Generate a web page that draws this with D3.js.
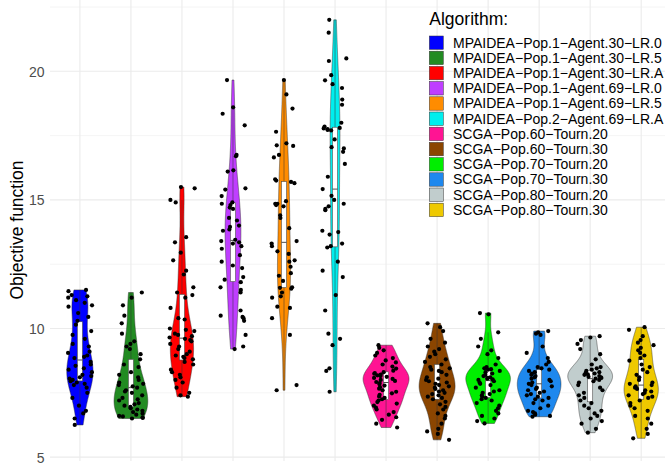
<!DOCTYPE html>
<html><head><meta charset="utf-8">
<script src="https://cdn.jsdelivr.net/npm/d3@7"></script>
<style>body{margin:0;background:#fff}svg{display:block;font-family:"Liberation Sans",Arial,sans-serif}</style>
</head><body><svg id="c" width="665" height="465"></svg>
<script>
const categories = [
  "MPAIDEA−Pop.1−Agent.30−LR.0","MPAIDEA−Pop.1−Agent.30−LR.5","MPAIDEA−Pop.1−Agent.30−LR.A",
  "MPAIDEA−Pop.1−Agent.69−LR.0","MPAIDEA−Pop.1−Agent.69−LR.5","MPAIDEA−Pop.2−Agent.69−LR.A",
  "SCGA−Pop.60−Tourn.20","SCGA−Pop.60−Tourn.30","SCGA−Pop.70−Tourn.20",
  "SCGA−Pop.70−Tourn.30","SCGA−Pop.80−Tourn.20","SCGA−Pop.80−Tourn.30"];
const colors = ["#0000FF","#228B22","#FF0000","#BF3EFF","#FF8C00","#00EEEE",
  "#FF1493","#8B4500","#00EE00","#1E88EE","#C1CDCD","#EEC900"];
const yTicks = [5,10,15,20];
const yMinor = [7.5,12.5,17.5,22.5];

const mp30_lr0 = [11.5,11.45,11.3,11.25,11.2,11.1,11.0,10.9,10.85,10.6,10.45,10.3,10.15,9.9,9.75,9.6,9.4,9.3,9.1,9.05,
  8.95,8.9,8.85,8.7,8.6,8.55,8.45,8.4,8.3,8.2,8.15,8.1,8.05,8.0,7.95,7.9,7.85,7.8,7.7,7.5,7.3,7.0,6.8,6.7,6.5,6.25];
const mp30_lr5 = [11.4,11.2,10.9,10.5,10.2,9.8,9.5,9.4,9.3,9.2,9.0,8.8,8.6,8.5,8.3,8.2,8.1,8.0,7.9,7.85,7.8,7.75,7.7,7.6,7.55,7.5,
  7.4,7.3,7.25,7.2,7.1,7.05,7.0,6.95,6.9,6.85,6.8,6.75,6.7,6.65,6.6,6.58,6.55,6.52,6.5];
const mp30_lrA = [15.5,15.45,15.0,14.9,13.55,13.35,12.95,12.65,12.25,12.1,11.6,11.4,11.3,11.2,10.8,10.4,10.35,
  10.0,9.95,9.9,9.8,9.75,9.7,9.65,9.6,9.55,9.5,9.4,9.3,9.2,9.1,9.0,8.95,8.9,8.85,8.8,8.7,8.6,
  8.4,8.3,8.2,8.1,8.0,7.9,7.7,7.5,7.4,7.35];
const mp69_lr0 = [19.66,18.6,18.35,17.9,16.75,16.7,16.15,16.1,15.45,15.4,15.15,14.9,14.85,14.8,14.7,14.65,14.3,14.2,14.0,13.95,
  13.85,13.8,13.45,13.35,13.4,13.3,13.2,13.1,12.85,12.6,12.45,12.35,12.0,11.9,11.8,11.6,11.5,11.4,
  10.7,10.5,10.45,10.4,10.3,9.75,9.3,9.2];
const mp69_lr5 = [19.66,19.1,18.55,17.65,17.2,17.12,17.1,16.75,16.65,15.8,15.75,15.7,15.65,14.95,14.85,14.85,14.8,14.75,14.4,14.3,
  13.9,13.4,13.3,13.2,13.0,12.9,12.65,12.6,12.4,12.15,12.05,11.85,11.6,11.58,11.55,11.4,11.25,11.2,10.85,10.8,10.4,9.75,7.8,7.6];
const mp2_69_lrA = [22.0,21.5,20.5,20.4,19.85,19.65,19.5,19.35,18.9,18.7,18.0,17.85,17.8,17.78,17.75,17.72,17.7,17.35,17.05,17.0,16.87,16.4,
  15.9,15.42,15.16,15.0,14.85,14.75,14.65,14.6,13.8,13.75,13.65,13.3,13.2,13.15,12.6,12.25,12.0,
  11.3,10.7,9.8,9.6,9.35,8.45,8.35,7.54];
const sc60_20 = [6.15,6.3,6.45,6.55,6.65,6.75,6.85,6.92,7.0,7.08,7.14,7.2,
  7.25,7.3,7.36,7.42,7.48,7.54,7.6,7.66,7.72,7.78,7.84,7.88,
  7.92,7.96,8.0,8.04,8.08,8.12,8.15,8.18,8.21,8.24,8.27,8.3,
  8.36,8.44,8.52,8.6,8.68,8.76,8.85,8.95,9.05,9.15,9.25,9.35];
const sc60_30 = [10.2,10.05,9.9,9.6,9.45,9.3,9.2,9.1,9.0,8.9,8.8,8.7,8.6,8.5,8.45,8.4,8.35,8.3,8.2,8.1,8.05,8.0,7.95,7.9,7.85,7.8,
  7.75,7.7,7.65,7.6,7.55,7.5,7.45,7.4,7.35,7.3,7.25,7.15,7.05,6.95,6.85,6.7,6.6,6.5,6.3,6.1,6.0,5.9,5.67];
const sc70_20 = [10.6,10.55,9.85,9.6,9.3,9.15,9.0,8.85,8.6,8.5,8.45,8.42,8.4,8.35,8.3,8.25,8.2,8.15,8.1,8.08,8.05,8.02,8.0,7.95,7.9,
  7.85,7.8,7.7,7.6,7.55,7.5,7.45,7.4,7.35,7.3,7.25,7.2,7.1,7.0,6.9,6.8,6.7,6.6,6.5,6.4,6.31];
const sc70_30 = [9.9,9.85,9.8,9.75,9.3,9.05,8.85,8.7,8.6,8.5,8.45,8.4,8.35,8.3,8.25,8.2,8.15,8.1,8.05,8.0,7.95,7.9,
  7.85,7.8,7.75,7.7,7.65,7.6,7.55,7.5,7.45,7.4,7.35,7.3,7.25,7.2,7.1,7.0,6.9,6.8,6.75,6.7,6.65,6.6,6.57];
const sc80_20 = [9.7,9.65,9.55,9.4,9.2,9.0,8.8,8.6,8.5,8.45,8.4,8.35,8.3,8.28,8.25,8.22,8.2,8.15,8.12,8.1,8.08,8.05,8.0,7.95,
  7.9,7.8,7.7,7.6,7.5,7.4,7.3,7.2,7.1,7.0,6.9,6.8,6.7,6.6,6.5,6.4,6.3,6.1,5.95];
const sc80_30 = [10.05,9.95,9.7,9.55,9.45,9.35,9.25,9.15,9.05,8.95,8.85,8.75,8.6,8.5,8.4,8.3,8.2,8.1,8.0,7.9,7.85,
  7.8,7.75,7.7,7.65,7.6,7.55,7.5,7.45,7.4,7.35,7.3,7.2,7.1,7.0,6.9,6.8,6.6,6.5,6.3,6.1,5.9,5.73];

const seriesValues = [mp30_lr0,mp30_lr5,mp30_lrA,mp69_lr0,mp69_lr5,mp2_69_lrA,sc60_20,sc60_30,sc70_20,sc70_30,sc80_20,sc80_30];

const panel = {left:50, right:665, top:0, bottom:461};
const svg = d3.select("#c");

const x = d3.scalePoint().domain(categories).range([79.9, 641.2]);
const step = x.step();
const y = d3.scaleLinear().domain([5,20]).range([457.1, 71.3]);

// grid
const grid = svg.append("g");
grid.selectAll(".mi").data(yMinor).join("line")
  .attr("x1",panel.left).attr("x2",panel.right).attr("y1",d=>y(d)).attr("y2",d=>y(d))
  .attr("stroke","#ebebeb").attr("stroke-width",0.55);
grid.selectAll(".ma").data(yTicks).join("line")
  .attr("x1",panel.left).attr("x2",panel.right).attr("y1",d=>y(d)).attr("y2",d=>y(d))
  .attr("stroke","#ebebeb").attr("stroke-width",1.1);
grid.selectAll(".vx").data(categories).join("line")
  .attr("x1",d=>x(d)).attr("x2",d=>x(d)).attr("y1",panel.top).attr("y2",panel.bottom)
  .attr("stroke","#ebebeb").attr("stroke-width",1.1);

// y axis labels
const yAxis = d3.axisLeft(y).tickValues(yTicks).tickSize(0).tickPadding(0).tickFormat(d3.format("d"));
const ga = svg.append("g").attr("transform","translate(44.5,0)").call(yAxis);
ga.select(".domain").remove();
ga.selectAll("text").attr("fill","#4d4d4d").attr("font-size",14).attr("font-family","Liberation Sans, Arial, sans-serif").attr("dy","0.35em");

svg.append("text").attr("transform","translate(23,230) rotate(-90)").attr("text-anchor","middle")
  .attr("font-size",17.5).attr("fill","#000").text("Objective function");

// stats
function bwNrd0(s){
  const sd = d3.deviation(s);
  const iqr = d3.quantileSorted(s,0.75)-d3.quantileSorted(s,0.25);
  let lo = Math.min(sd, iqr/1.34);
  if(!lo) lo = sd || Math.abs(s[0]) || 1;
  return 0.9*lo*Math.pow(s.length,-0.2);
}
const groups = seriesValues.map((vals,i)=>{
  const s = vals.slice().sort(d3.ascending);
  const bw = bwNrd0(s);
  const mn = s[0], mx = s[s.length-1], n = 512;
  const dens = d3.range(n).map(k=>{
    const yy = mn + (mx-mn)*k/(n-1);
    let sum = 0;
    for(const v of s){ const u=(yy-v)/bw; sum += Math.exp(-0.5*u*u); }
    return {y:yy, d: sum/(s.length*bw*Math.sqrt(2*Math.PI))};
  });
  const q1 = d3.quantileSorted(s,0.25), med = d3.quantileSorted(s,0.5), q3 = d3.quantileSorted(s,0.75);
  const iqr = q3-q1;
  const lw = d3.min(s.filter(v=>v>=q1-1.5*iqr)), uw = d3.max(s.filter(v=>v<=q3+1.5*iqr));
  return {cat:categories[i], color:colors[i], vals, dens, q1, med, q3, lw, uw};
});
const maxD = d3.max(groups, g=>d3.max(g.dens, p=>p.d));
const half = 0.45*step;

// violins
const vg = svg.append("g");
groups.forEach(g=>{
  const cx = x(g.cat);
  const area = d3.area().y(p=>y(p.y)).x0(p=>cx - half*p.d/maxD).x1(p=>cx + half*p.d/maxD);
  vg.append("path").datum(g.dens).attr("d", area)
    .attr("fill", g.color).attr("stroke","#333333").attr("stroke-width",0.5);
});

// boxplots
const bg = svg.append("g");
const bh = 0.05*step;
groups.forEach(g=>{
  const cx = x(g.cat);
  bg.append("line").attr("x1",cx).attr("x2",cx).attr("y1",y(g.q3)).attr("y2",y(g.uw)).attr("stroke","#333").attr("stroke-width",0.5);
  bg.append("line").attr("x1",cx).attr("x2",cx).attr("y1",y(g.q1)).attr("y2",y(g.lw)).attr("stroke","#333").attr("stroke-width",0.5);
  bg.append("rect").attr("x",cx-bh).attr("width",2*bh).attr("y",y(g.q3)).attr("height",y(g.q1)-y(g.q3))
    .attr("fill","#fff").attr("stroke","#4d4d4d").attr("stroke-width",0.6);
  bg.append("line").attr("x1",cx-bh).attr("x2",cx+bh).attr("y1",y(g.med)).attr("y2",y(g.med)).attr("stroke","#4d4d4d").attr("stroke-width",1);
});

// jittered points
const rng = d3.randomLcg(0.4242);
const pg = svg.append("g");
groups.forEach(g=>{
  const cx = x(g.cat);
  g.vals.forEach(v=>{
    const off = (rng()*2-1)*0.25*step;
    pg.append("circle").attr("cx",cx+off).attr("cy",y(v)).attr("r",2.1).attr("fill","#000");
  });
});

// legend
const lg = svg.append("g").attr("transform","translate(429.3,0)");
lg.append("text").attr("x",0).attr("y",25).attr("font-size",17.5).attr("fill","#000").text("Algorithm:");
const items = lg.selectAll(".it").data(categories).join("g").attr("transform",(d,i)=>`translate(0,${36+i*15.2})`);
items.append("rect").attr("width",14).attr("height",13.4).attr("fill",(d,i)=>colors[i]).attr("stroke","#333").attr("stroke-width",0.5);
items.append("text").attr("x",23.7).attr("y",6.7).attr("dy","0.35em").attr("font-size",14).attr("fill","#000").text(d=>d);
</script></body></html>
